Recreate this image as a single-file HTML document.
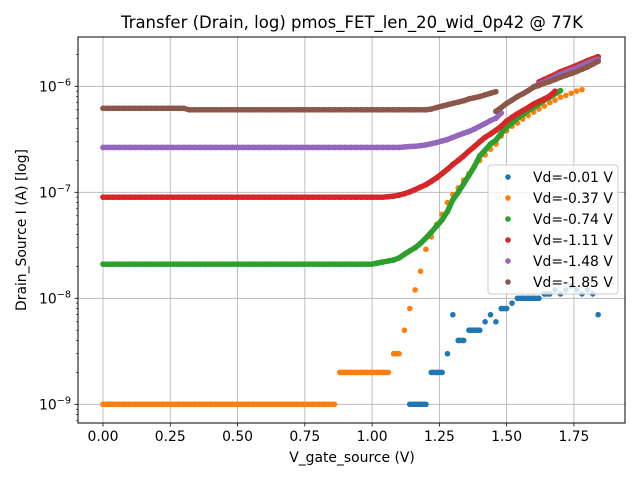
<!DOCTYPE html>
<html><head><meta charset="utf-8">
<style>
html,body{margin:0;padding:0;background:#fff;}
svg{display:block;font-family:"DejaVu Sans","Liberation Sans",sans-serif;}
</style></head>
<body>
<svg id="chart" width="640" height="480" viewBox="0 0 640 480" xmlns="http://www.w3.org/2000/svg">
  <rect x="0" y="0" width="640" height="480" fill="#fff"/>
  <text x="352" y="28" text-anchor="middle" font-size="16.5" fill="#000">Transfer (Drain, log) pmos_FET_len_20_wid_0p42 @ 77K</text>
  <g id="grid"></g>
  <g id="marks"></g>
  <rect x="78" y="37" width="547" height="386" fill="none" stroke="#000" stroke-width="1"/>
  <g id="axes"></g>
  <text x="352" y="462" text-anchor="middle" font-size="13.9">V_gate_source (V)</text>
  <text x="0" y="0" transform="translate(26,230) rotate(-90)" text-anchor="middle" font-size="13.9">Drain_Source I (A) [log]</text>
  <g id="legend"></g>
</svg>
<script>
// ---- data (currents in nA, x step 0.02 V from start x) ----
const xStep = 0.02;
const seriesLabels = ["Vd=-0.01 V","Vd=-0.37 V","Vd=-0.74 V","Vd=-1.11 V","Vd=-1.48 V","Vd=-1.85 V"];
const seriesColors = ["#1f77b4","#ff7f0e","#2ca02c","#d62728","#9467bd","#8c564b"];
const xTicks = [0,0.25,0.5,0.75,1.0,1.25,1.5,1.75];
const xTickLabels = ["0.00","0.25","0.50","0.75","1.00","1.25","1.50","1.75"];
const yTicksExp = [-9,-8,-7,-6];

const blueX0 = 1.14;
const blue = [1,1,1,1,2,2,2,3,7,4,4,5,5,5,6,7,6,8,8,9,10,10,10,10,10,11,11,12,11,12,13,12,11,12,11,7];

const orangeX0 = 0;
const orange = [1,1,1,1,1,1,1,1,1,1,1,1,1,1,1,1,1,1,1,1,1,1,1,1,1,1,1,1,1,1,1,1,1,1,1,1,1,1,1,1,1,1,1,1,
 2,2,2,2,2,2,2,2,2,2,3,3,
 5,8,12,18,29,38,50,62,80,95,110,130,150,175,200,225,255,285,340,380,420,450,490,530,570,610,650,700,740,790,820,860,900,930];
const orangeUpperX0 = 1.66;
const orangeUpper = [1220,1290,1370,1430,1500,1570,1650,1740,1820,1900];

const greenX0 = 0;
const green = [21,21,21,21,21,21,21,21,21,21,21,21,21,21,21,21,21,21,21,21,21,21,21,21,21,21,21,21,21,21,21,21,21,21,21,21,21,21,21,21,21,21,21,21,21,21,21,21,21,21,21,
 21.5,22,22.5,23,24,26,28,30,33,37,42,48,55,66,85,100,120,145,175,220,250,285,310,360,410,450,500,540,590,630,680,740,790,850,910];
const greenUpperX0 = 1.64;
const greenUpper = [1160,1220,1290,1370,1430,1500,1570,1650,1740,1820,1900];

const redX0 = 0;
const red = [90,90,90,90,90,90,90,90,90,90,90,90,90,90,90,90,90,90,90,90,90,90,90,90,90,90,90,90,90,90,90,90,90,90,90,90,90,90,90,90,90,90,90,90,90,90,90,90,90,90,90,90,90,
 91,92,94,97,101,106,112,118,127,137,150,165,183,200,220,245,270,300,330,355,385,420,470,510,550,590,630,680,720,760,810,900];
const redUpperX0 = 1.62;
const redUpper = [1100,1160,1220,1290,1370,1430,1500,1570,1650,1740,1820,1900];

const purpleX0 = 0;
const purple = [265,265,265,265,265,265,265,265,265,265,265,265,265,265,265,265,265,265,265,265,265,265,265,265,265,265,265,265,265,265,265,265,265,265,265,265,265,265,265,265,265,265,265,265,265,265,265,265,265,265,265,265,265,265,265,265,
 268,270,272,275,280,287,295,305,315,330,345,360,375,395,420,445,475,500,560];
const purpleUpperX0 = 1.60;
const purpleUpper = [990,1045,1100,1160,1225,1300,1360,1425,1490,1570,1650,1730,1800];

const brownX0 = 0;
const brown = [620,620,620,620,620,620,620,620,620,620,620,620,620,620,620,620,
 600,600,600,600,600,600,600,600,600,600,600,600,600,600,600,600,600,600,600,600,600,600,600,600,600,600,600,600,600,600,600,600,600,600,600,600,600,600,600,600,600,600,600,600,600,
 610,630,650,670,690,710,730,760,780,800,830,860,890];
const brownUpperX0 = 1.46;
const brownUpper = [580,630,690,740,800,850,910,980,1020,1070,1110,1160,1220,1270,1320,1380,1450,1520,1620,1720];

// ---- axes ----
const L=78,R=625,T=37,B=423;
const X0PX=103, XPER=269.1;
const YREF=86.3, DEC=106;
function xs(v){return X0PX+v*XPER;}
function ys(nA){return YREF-(Math.log10(nA*1e-9)+6)*DEC;}
const NS="http://www.w3.org/2000/svg";
function mk(tag,attrs,parent){const e=document.createElementNS(NS,tag);for(const k in attrs)e.setAttribute(k,attrs[k]);parent.appendChild(e);return e;}

const grid=document.getElementById('grid'), axes=document.getElementById('axes');
xTicks.forEach((t,i)=>{
  const x=xs(t);
  const gl=mk('line',{x1:x,x2:x,y1:T,y2:B,stroke:'#b0b0b0','stroke-width':0.8},grid);
  
  
  const tk=mk('line',{x1:x,x2:x,y1:B,y2:B+3.5,stroke:'#000','stroke-width':0.8},axes);
  
  
  const tl=mk('text',{x:x,y:B+18,'text-anchor':'middle','font-size':13.9},axes);
  tl.textContent=xTickLabels[i];
  
  
});
yTicksExp.forEach(e=>{
  const y=ys(Math.pow(10,e+9));
  const gl=mk('line',{x1:L,x2:R,y1:y,y2:y,stroke:'#b0b0b0','stroke-width':0.8},grid);
  
  
  const tk=mk('line',{x1:L-3.5,x2:L,y1:y,y2:y,stroke:'#000','stroke-width':0.8},axes);
  
  
  const tl=mk('text',{x:L-7,y:y+5,'text-anchor':'end','font-size':13.9},axes);
  
  
  const base=mk('tspan',{},tl); base.textContent='10';
  const sup=mk('tspan',{dy:-6,'font-size':9.7},tl); sup.textContent='\u2212'+Math.abs(e);
});
for(let e=-10;e<=-6;e++){
  for(let m=2;m<=9;m++){
    const y=ys(m*Math.pow(10,e+9));
    if(y<T||y>B) continue;
    const tk=mk('line',{x1:L-2,x2:L,y1:y,y2:y,stroke:'#000','stroke-width':0.6},axes);
    
    
  }
}

// ---- marks ----
// dense sweep: draw a thick trace between neighbouring samples (mode 'all'),
// only along constant runs ('flat'), or not at all ('none'), plus the sample dots.
const marks=document.getElementById('marks');
function drawSeries(vals,x0,color,name,mode){
  const g=mk('g',{fill:color},marks);
  
  
  if(mode!=='none'){
    for(let i=1;i<vals.length;i++){
      const a=vals[i-1], b=vals[i];
      if(a==null||b==null) continue;
      if(mode==='flat' && a!==b) continue;
      const seg=mk('line',{x1:xs(x0+(i-1)*xStep).toFixed(2),y1:ys(a).toFixed(2),x2:xs(x0+i*xStep).toFixed(2),y2:ys(b).toFixed(2),stroke:color,'stroke-width':5.4,'stroke-linecap':'round'},g);
      
      
    }
  }
  vals.forEach((v,i)=>{
    if(v==null) return;
    const c=mk('circle',{cx:xs(x0+i*xStep).toFixed(2),cy:ys(v).toFixed(2),r:2.8},g);
    
    
  });
}
drawSeries(blue,blueX0,seriesColors[0],'series-vd-0p01','flat');
drawSeries(orange,orangeX0,seriesColors[1],'series-vd-0p37','flat');
drawSeries(orangeUpper,orangeUpperX0,seriesColors[1],'series-vd-0p37-upper','all');
drawSeries(green,greenX0,seriesColors[2],'series-vd-0p74','all');
drawSeries(greenUpper,greenUpperX0,seriesColors[2],'series-vd-0p74-upper','all');
drawSeries(red,redX0,seriesColors[3],'series-vd-1p11','all');
drawSeries(redUpper,redUpperX0,seriesColors[3],'series-vd-1p11-upper','all');
drawSeries(purple,purpleX0,seriesColors[4],'series-vd-1p48','all');
drawSeries(purpleUpper,purpleUpperX0,seriesColors[4],'series-vd-1p48-upper','all');
drawSeries(brown,brownX0,seriesColors[5],'series-vd-1p85','all');
drawSeries(brownUpper,brownUpperX0,seriesColors[5],'series-vd-1p85-upper','all');

// ---- legend ----
const lg=document.getElementById('legend');
const lbox=mk('rect',{x:488,y:165,width:130,height:129,rx:3,fill:'#fff','fill-opacity':0.8,stroke:'#cccccc','stroke-width':1},lg);


seriesLabels.forEach((lab,i)=>{
  const y=177+i*21;
  const g=mk('g',{},lg);
  
  
  mk('circle',{cx:508,cy:y,r:2.8,fill:seriesColors[i]},g);
  const t=mk('text',{x:533,y:y+5,'font-size':13.9},g);
  t.textContent=lab;
});
</script>
</body></html>
